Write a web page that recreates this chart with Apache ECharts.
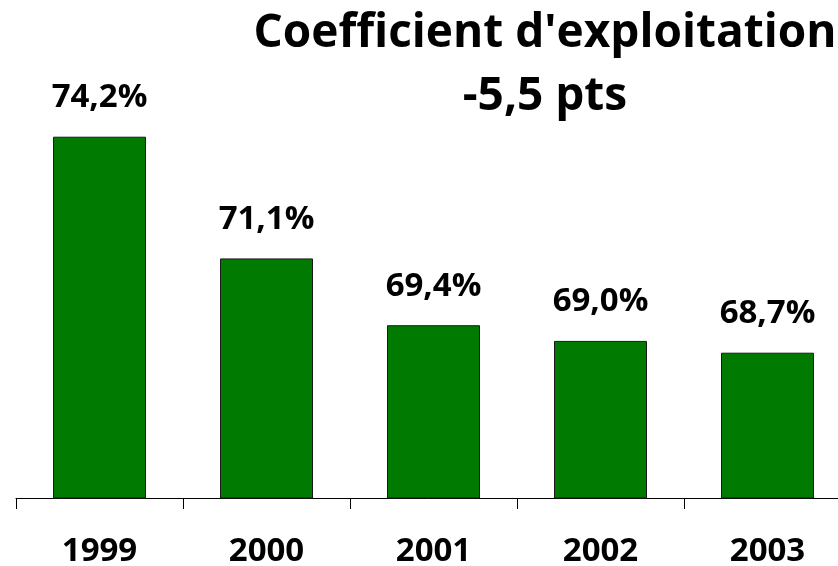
<!DOCTYPE html>
<html>
<head>
<meta charset="utf-8">
<script src="https://cdn.jsdelivr.net/npm/echarts@6/dist/echarts.min.js"></script>
<style>html,body{margin:0;padding:0;background:#fff}#c{width:838px;height:566px}</style>
</head>
<body>
<div id="c"></div>
<script>
var categories = ['1999', '2000', '2001', '2002', '2003'];
var values = [74.2, 71.1, 69.4, 69.0, 68.7];
var titleLines = ["Coefficient d'exploitation", '-5,5 pts'];

var FONT = '"Open Sans", "Noto Sans", sans-serif';
var chart = echarts.init(document.getElementById('c'), null, {renderer: 'canvas'});
chart.setOption({
  animation: false,
  backgroundColor: '#ffffff',
  title: {
    text: titleLines.join('\n'),
    left: 540,
    top: -3,
    textAlign: 'center',
    textStyle: {fontFamily: FONT, fontWeight: 'bold', fontSize: 46, lineHeight: 63, color: '#000'}
  },
  grid: {left: 16, width: 835, top: 105.3, bottom: 68, containLabel: false, outerBoundsMode: 'none'},
  xAxis: {
    type: 'category',
    data: categories,
    axisLine: {lineStyle: {color: '#000', width: 1}},
    axisTick: {show: true, length: 11, lineStyle: {color: '#000'}},
    axisLabel: {fontFamily: FONT, fontWeight: 'bold', fontSize: 33, lineHeight: 34, color: '#000', margin: 37}
  },
  yAxis: {type: 'value', min: 65, max: 75, show: false, splitLine: {show: false}},
  series: [{
    type: 'bar',
    data: values,
    barWidth: 93,
    itemStyle: {color: '#007A00', borderColor: '#1a1a1a', borderWidth: 1},
    label: {
      show: true,
      position: 'top',
      distance: 22,
      fontFamily: FONT, fontWeight: 'bold', fontSize: 33, lineHeight: 34, color: '#000',
      formatter: function (p) { return p.value.toFixed(1).replace('.', ',') + '%'; }
    }
  }]
});
</script>
</body>
</html>
